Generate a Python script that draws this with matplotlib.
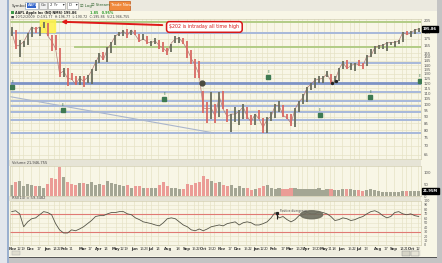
import numpy as np
import pandas as pd
import matplotlib
matplotlib.use("Agg")
import matplotlib.pyplot as plt
import matplotlib.dates as mdates
from matplotlib.patches import Rectangle, Ellipse
from matplotlib.ticker import NullLocator

W, H = 442, 263

# weekly bars, AAPL, late Oct 2007 .. mid Oct 2009
weeks = pd.date_range("2007-10-29", "2009-10-12", freq="W-MON")
highs = [194, 189, 173, 172, 185, 194, 194, 194, 202, 200,
         181, 181, 162, 136, 137, 131, 127, 128, 127, 129, 135, 146, 155,
         157, 163, 170, 181, 186, 189, 190, 189, 189, 182, 182, 180, 172,
         177, 173, 170, 162, 168, 180, 178, 176, 172, 159, 147, 145,
         112, 102, 111, 100, 111, 112, 96, 92, 98, 95, 100, 98, 91, 92,
         95, 89, 90, 94, 100, 103, 99, 92, 92, 97, 103, 109, 116,
         120, 125, 128, 127, 133, 130, 127, 136, 145, 146, 142, 143, 146,
         142, 152, 160, 165, 166, 168, 170, 171, 172, 173, 186, 188, 188,
         191, 193]
lows = [180, 161, 150, 163, 166, 178, 184, 180, 192, 180,
        158, 159, 126, 126, 117, 123, 118, 118, 116, 120, 119, 133, 142,
        146, 144, 155, 166, 180, 179, 176, 181, 181, 171, 174, 167, 165,
        168, 161, 156, 152, 156, 169, 169, 168, 149, 141, 125, 125,
        93, 85, 88, 85, 90, 96, 86, 79, 86, 84, 88, 88, 84, 84,
        88, 78, 78, 87, 89, 94, 90, 88, 83, 82, 94, 100, 102,
        113, 115, 120, 120, 126, 119, 120, 122, 135, 135, 134, 133, 139,
        135, 139, 150, 154, 160, 160, 158, 166, 164, 167, 171, 181, 178,
        182, 186]
closes = [186, 165, 166, 171, 182, 194, 190, 194, 199, 180,
          172, 161, 130, 133, 125, 124, 119, 125, 122, 126, 133, 143, 153,
          147, 161, 169, 180, 183, 187, 181, 189, 181, 172, 175, 170, 170,
          172, 165, 162, 156, 169, 175, 176, 169, 160, 148, 140, 128,
          97, 96, 97, 90, 107, 96, 90, 92, 92, 94, 98, 90, 86, 92,
          88, 82, 88, 90, 99, 99, 91, 89, 85, 96, 102, 106, 115,
          119, 123, 124, 125, 130, 122, 122, 135, 143, 136, 139, 142, 140,
          139, 151, 151, 163, 165, 166, 169, 170, 170, 172, 185, 182, 184,
          189, 191]
volumes = [45, 60, 65, 40, 50, 45, 40, 40, 35, 50,
           75, 70, 120, 80, 60, 50, 45, 55, 55, 50, 60, 45, 50,
           45, 65, 55, 50, 45, 40, 45, 35, 40, 40, 35, 35, 35,
           35, 45, 60, 40, 35, 35, 30, 30, 50, 45, 55, 60,
           85, 70, 65, 55, 60, 45, 40, 45, 35, 40, 35, 35, 25, 30,
           35, 40, 45, 35, 30, 35, 30, 30, 35, 35, 30, 28, 30,
           28, 30, 35, 25, 30, 28, 25, 25, 30, 30, 28, 25, 25,
           20, 25, 30, 25, 20, 18, 17, 15, 18, 18, 22, 22, 20,
           20, 22]
rsi = [75, 77, 70, 41, 52, 59, 61, 68, 75, 73,
       68, 48, 34, 27, 27, 34, 32, 36, 41, 48, 55, 64, 66,
       66, 70, 73, 73, 75, 75, 70, 68, 61, 57, 52, 50, 48,
       45, 43, 50, 59, 61, 59, 52, 45, 41, 34, 32, 36,
       32, 36, 41, 43, 45, 43, 48, 50, 52, 45, 50, 52, 50, 45,
       45, 48, 52, 61, 73, 61, 64, 57, 52, 57, 66, 68, 73,
       70, 70, 75, 73, 70, 64, 55, 57, 61, 59, 55, 57, 61,
       64, 70, 75, 77, 73, 66, 61, 64, 73, 75, 70, 68, 70,
       66, 64]

price_ticks = [65, 70, 75, 80, 85, 90, 95, 100, 105, 110, 115, 120, 125, 130,
               135, 140, 145, 150, 155, 165, 175, 185, 205]
blue_levels = [184, 143, 111, 103, 98.8, 93.8, 87.6, 78.3]
support_level = 120
green_levels = [(202, "2007-10-28"), (164, "2008-02-19")]
trend_dates = ["2007-10-28", "2008-10-19"]
trend_prices = [106.8, 78.3]
event_dates = ["2007-11-01", "2008-01-29", "2008-07-25", "2009-01-23",
               "2009-04-23", "2009-07-21", "2009-10-16"]
event_prices = [116.4, 95.5, 104.9, 126.3, 91.4, 106.8, 122.6]

tick_labels = [("2007-11-01", "Nov"), ("2007-11-12", "12"), ("2007-11-19", "19"),
               ("2007-12-03", "Dec"), ("2007-12-17", "17"), ("2008-01-02", "Jan"),
               ("2008-01-14", "14"), ("2008-01-22", "22"), ("2008-02-01", "Feb"),
               ("2008-02-11", "11"), ("2008-03-03", "Mar"), ("2008-03-17", "17"),
               ("2008-04-01", "Apr"), ("2008-04-14", "14"), ("2008-05-01", "May"),
               ("2008-05-12", "12"), ("2008-05-19", "19"), ("2008-06-02", "Jun"),
               ("2008-06-16", "16"), ("2008-06-23", "23"), ("2008-07-01", "Jul"),
               ("2008-07-14", "14"), ("2008-08-01", "Aug"), ("2008-08-18", "18"),
               ("2008-09-02", "Sep"), ("2008-09-15", "15"), ("2008-09-22", "22"),
               ("2008-10-01", "Oct"), ("2008-10-13", "13"), ("2008-10-20", "20"),
               ("2008-11-03", "Nov"), ("2008-11-17", "17"), ("2008-12-01", "Dec"),
               ("2008-12-15", "15"), ("2008-12-22", "22"), ("2009-01-02", "Jan"),
               ("2009-01-12", "12"), ("2009-01-20", "20"), ("2009-02-02", "Feb"),
               ("2009-02-17", "17"), ("2009-03-02", "Mar"), ("2009-03-16", "16"),
               ("2009-03-23", "23"), ("2009-04-01", "Apr"), ("2009-04-13", "13"),
               ("2009-04-20", "20"), ("2009-05-01", "May"), ("2009-05-11", "11"),
               ("2009-05-18", "18"), ("2009-06-01", "Jun"), ("2009-06-15", "15"),
               ("2009-06-22", "22"), ("2009-07-01", "Jul"), ("2009-07-13", "13"),
               ("2009-08-03", "Aug"), ("2009-08-17", "17"), ("2009-09-01", "Sep"),
               ("2009-09-14", "14"), ("2009-09-21", "21"), ("2009-10-01", "Oct"),
               ("2009-10-12", "12")]

CREAM = "#f8f6e6"
GRID = "#e6e2c6"
RED = "#d86a64"
DARK = "#6a6e5e"

fig = plt.figure(figsize=(W / 100, H / 100), dpi=100)
fig.patch.set_facecolor("#c4c4c4")


def box(x0, y0, x1, y1, z=-2, **kw):
    fig.add_artist(Rectangle((x0 / W, 1 - y1 / H), (x1 - x0) / W, (y1 - y0) / H,
                             transform=fig.transFigure, zorder=z, **kw))


def txt(x, y, s, **kw):
    kw.setdefault("fontsize", 3.3)
    kw.setdefault("va", "center")
    fig.text(x / W, 1 - y / H, s, zorder=3, **kw)


def px_axes(x0, y0, x1, y1):
    ax = fig.add_axes([x0 / W, 1 - y1 / H, (x1 - x0) / W, (y1 - y0) / H])
    ax.set_facecolor(CREAM)
    for s in ax.spines.values():
        s.set_color("#d2ceb2")
        s.set_linewidth(0.5)
    return ax


# window frame
box(0, 0, 9, 263, color="#e2e6ec", lw=0, z=-5)
box(7, 0, 8.5, 263, color="#9bb0cf", lw=0, z=-4)
box(9, 0, 437, 257, color=CREAM, lw=0, z=-5)
box(9, 0, 437, 11, color="#ebe9df", lw=0, z=-4)
box(9, 256.5, 437, 258, color="#555555", lw=0, z=-4)

# toolbar
txt(12, 5.5, "Symbol", color="#333333", fontsize=2.8)
box(25, 2, 38, 9, facecolor="white", edgecolor="#8899aa", lw=0.4)
box(27, 3.5, 36, 7.5, color="#3366cc", lw=0, z=-1)
txt(27.5, 5.5, "AAPL", color="white", fontsize=2.7)
box(39, 2, 47, 9, facecolor="#f2f2f2", edgecolor="#999999", lw=0.4)
txt(40.5, 5.5, "Go", color="#333333", fontsize=2.8)
box(48, 2, 65, 9, facecolor="white", edgecolor="#999999", lw=0.4)
txt(50, 5.5, "2 Yr    \u25be", color="#333333", fontsize=2.8)
box(67, 2, 78, 9, facecolor="white", edgecolor="#999999", lw=0.4)
txt(69, 5.5, "D   \u25be", color="#333333", fontsize=2.8)
txt(80, 5.5, "\u2611 Log", color="#336633", fontsize=2.8)
txt(91, 5.5, "\u2611 Stream", color="#336633", fontsize=2.8)
box(109, 1.5, 130, 9.5, facecolor="#f08a3c", edgecolor="#c05a1a", lw=0.5)
txt(111, 5.5, "Trade Now", color="white", fontsize=2.8)

# title lines
box(11, 11.3, 13.8, 14.1, color="#3c9a48", lw=0)
txt(15, 12.8, "AAPL Apple Inc (NQ NMS) 195.86", color="#222222", fontsize=2.4,
    fontweight="bold")
txt(90, 12.8, "1.85   0.95%", color="#2a9a2a", fontsize=2.4, fontweight="bold")
txt(11, 17.2, "\u25a0 10/12/2009  O:191.77  H:196.77  L:190.72  C:195.86  V:21,946,755",
    color="#444444", fontsize=2.4)

xlo, xhi = pd.Timestamp("2007-10-28"), pd.Timestamp("2009-10-18")
mid = weeks + pd.Timedelta(days=2)
up = [True] + [closes[i] >= closes[i - 1] for i in range(1, len(closes))]
bar_colors = [DARK if u else RED for u in up]
tick_dates = [pd.Timestamp(d) for d, _ in tick_labels]

# ---------- price panel ----------
ax = px_axes(10, 19, 421, 159)
ax.set_yscale("log")
ax.set_ylim(62.6, 207.7)
ax.set_xlim(xlo, xhi)
for d in tick_dates:
    ax.axvline(d, color=GRID, lw=0.5, zorder=0)
for p in price_ticks:
    ax.axhline(p, color=GRID, lw=0.5, zorder=0)
for lvl in blue_levels:
    ax.axhline(lvl, color="#a7b8da", lw=1.4, zorder=1)
ax.axhline(support_level, color="#7d93c6", lw=2.0, zorder=1)
for lvl, start in green_levels:
    ax.plot([pd.Timestamp(start), xhi], [lvl, lvl], color="#b2cc86", lw=1.4, zorder=1)
ax.plot(pd.to_datetime(trend_dates), trend_prices, color="#aab6cc", lw=0.8, zorder=1)

ax.plot(mid, closes, color="#b07a76", lw=0.5, zorder=2)
ax.vlines(mid, lows, highs, colors=bar_colors, lw=1.3, zorder=3)

ax.plot(pd.to_datetime(event_dates), event_prices, "s", color="#3e7a52",
        ms=2.2, zorder=4)
for d, p in zip(event_dates, event_prices):
    ax.text(pd.Timestamp(d), p * 1.025, "E", fontsize=2.2, color="#3e7a52",
            ha="center", va="bottom")
ax.plot([pd.Timestamp("2008-09-29")], [support_level], "o", color="#4a4a40",
        ms=3.5, zorder=5)
ax.plot(pd.to_datetime(["2009-05-14", "2009-05-22"]), [120, 122], "o",
        color="#222222", ms=1.4, zorder=5)

# highlight and callout for the $202 high
ax.axvspan(pd.Timestamp("2007-12-19"), pd.Timestamp("2008-01-15"), ymin=0.91, ymax=1.0,
           color="#fff24a", alpha=0.85, zorder=2)
ax.annotate("", xy=(pd.Timestamp("2008-01-21"), 203), xytext=(pd.Timestamp("2008-07-26"), 197),
            arrowprops=dict(arrowstyle="-|>", color="#e01a1a", lw=1.4,
                            mutation_scale=5), zorder=6)
ax.text(pd.Timestamp("2008-10-03"), 194, "$202 is intraday all time high", fontsize=3.4,
        color="#d81818", ha="center", va="center", zorder=7,
        bbox=dict(boxstyle="round,pad=0.6,rounding_size=0.6", fc="white",
                  ec="#d81818", lw=1.1))

ax.yaxis.tick_right()
ax.set_yticks(price_ticks)
ax.set_yticklabels([str(p) for p in price_ticks])
ax.yaxis.set_minor_locator(NullLocator())
ax.tick_params(axis="y", labelsize=2.8, length=0, pad=2, colors="#555555")
ax.set_xticks([])
ax.text(1.005, np.interp(np.log(closes[-1]), np.log([62.6, 207.7]), [0, 1]), "195.86",
        transform=ax.transAxes, fontsize=2.6, color="white", va="center", ha="left",
        fontweight="bold", bbox=dict(boxstyle="square,pad=0.25", fc="black", ec="black"),
        zorder=8)

# ---------- volume panel ----------
box(9, 160, 421, 166, color="#e6e4d6", lw=0)
txt(12, 163, "Volume 21,946,755", color="#444444", fontsize=2.6)
axv = px_axes(10, 166, 421, 196)
axv.set_xlim(xlo, xhi)
axv.set_ylim(0, 126)
for d in tick_dates:
    axv.axvline(d, color=GRID, lw=0.5, zorder=0)
vol_colors = ["#a4a694" if u else "#eb9c96" for u in up]
axv.bar(mid, volumes, width=5.5, color=vol_colors, lw=0, zorder=2)
axv.yaxis.tick_right()
axv.set_yticks([0, 50, 100])
axv.tick_params(axis="y", labelsize=2.8, length=0, pad=2, colors="#555555")
axv.set_xticks([])
axv.text(1.005, volumes[-1] / 126, "21.95M", transform=axv.transAxes, fontsize=2.6,
         color="white", va="center", ha="left", fontweight="bold",
         bbox=dict(boxstyle="square,pad=0.25", fc="black", ec="black"))

# ---------- RSI panel ----------
box(9, 196, 421, 200.5, color="#e6e4d6", lw=0)
txt(12, 198.3, "RSI(14) = 59.3482", color="#444444", fontsize=2.6)
axr = px_axes(10, 200.5, 421, 245)
axr.set_xlim(xlo, xhi)
axr.set_ylim(0, 100)
for d in tick_dates:
    axr.axvline(d, color=GRID, lw=0.5, zorder=0)
for lvl in (10, 20, 30, 40, 50, 60, 70, 80, 90):
    axr.axhline(lvl, color=GRID, lw=0.4, zorder=0)
axr.axhline(70, color="#e07a74", lw=0.8, zorder=1)
axr.axhline(30, color="#e07a74", lw=0.8, zorder=1)
axr.plot(mid, rsi, color="#555548", lw=0.6, zorder=3)
axr.vlines(pd.Timestamp("2009-02-08"), 58, 73, color="#222222", lw=0.8, zorder=4)
axr.plot([pd.Timestamp("2009-02-08")], [73], "s", color="#222222", ms=1.3, zorder=4)
axr.text(pd.Timestamp("2009-02-12"), 76, "Positive divergence", fontsize=2.0,
         color="#444444", va="center", zorder=6)
axr.add_patch(Ellipse((mdates.date2num(pd.Timestamp("2009-04-09")), 68), 39, 18,
                      color="#6e6e60", alpha=0.9, zorder=5))
axr.yaxis.tick_right()
axr.set_yticks([0, 10, 20, 30, 40, 50, 60, 70, 80, 90, 100])
axr.tick_params(axis="y", labelsize=2.4, length=0, pad=2, colors="#555555")
axr.set_xticks(tick_dates)
axr.set_xticklabels([lab for _, lab in tick_labels])
axr.tick_params(axis="x", labelsize=2.7, length=0, pad=1.5, colors="#333333")
for t, (_, lab) in zip(axr.get_xticklabels(), tick_labels):
    if lab.isalpha():
        t.set_fontweight("bold")

# bottom scroll bar
box(10, 250, 421, 256, color="#efeddf", lw=0)
box(12, 251, 20, 255, facecolor="#e0ded0", edgecolor="#aaaaaa", lw=0.3)
box(402, 250.5, 410, 255.5, facecolor="#d6d4c6", edgecolor="#888888", lw=0.3)
box(411, 250.5, 419, 255.5, facecolor="#e6e4d6", edgecolor="#888888", lw=0.3)

fig.savefig("out.png", dpi=100, facecolor=fig.get_facecolor())
